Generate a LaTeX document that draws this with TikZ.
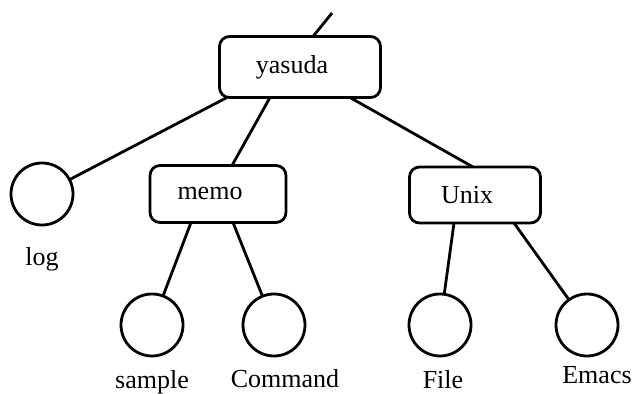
\documentclass[tikz,border=0pt]{standalone}
\usepackage{fontspec}
\setmainfont{Liberation Serif}
\usetikzlibrary{positioning}

\begin{document}
\begin{tikzpicture}[
  x=1pt, y=1pt,
  font=\fontsize{26}{30}\selectfont,
  line width=2.8pt,
  dir/.style={draw, rounded corners=10pt, fill=white, inner sep=0pt, outer sep=0pt, execute at begin node={\hspace*{-16pt}}},
  leaf/.style={draw, circle, inner sep=0pt, outer sep=0pt, minimum size=62pt},
  lbl/.style={inner sep=0pt, outer sep=0pt}
]
\useasboundingbox (0,0) rectangle (636,393);

\node[dir, minimum width=161pt, minimum height=61pt] (yasuda) at (300,326) {yasuda};
\node[dir, minimum width=136pt, minimum height=57pt] (memo) at (218,199) {memo};
\node[dir, minimum width=131pt, minimum height=56pt] (Unix) at (475,198) {Unix};
\coordinate (root) at (332,380);

\node[leaf] (log) at (42,199) {};
\node[leaf] (sample) at (152,68) {};
\node[leaf] (Command) at (274,68) {};
\node[leaf] (File) at (440,68) {};
\node[leaf] (Emacs) at (587,68) {};

\node[lbl, below=22pt of log] (loglbl) {log};
\node[lbl, below=14pt of sample] (samplelbl) {sample};
\node[lbl, below=13pt of Command, xshift=11pt] (commandlbl) {Command};
\node[lbl, below=14pt of File, xshift=3pt] (filelbl) {File};
\node[lbl, below=10pt of Emacs, xshift=10pt] (emacslbl) {Emacs};

\draw ([xshift=13pt]yasuda.north) -- (root);
\draw ([xshift=-73pt]yasuda.south) -- (log);
\draw ([xshift=-30pt]yasuda.south) -- ([xshift=14pt]memo.north);
\draw ([xshift=50pt]yasuda.south) -- ([xshift=-2pt]Unix.north);
\draw ([xshift=-27pt]memo.south) -- (sample);
\draw ([xshift=15pt]memo.south) -- (Command);
\draw ([xshift=-21pt]Unix.south) -- (File);
\draw ([xshift=39pt]Unix.south) -- (Emacs);
\end{tikzpicture}
\end{document}
